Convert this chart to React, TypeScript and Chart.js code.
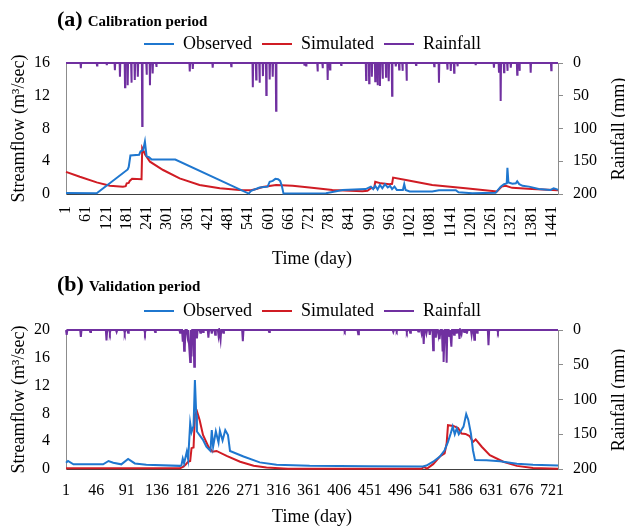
import React, { useEffect, useRef } from 'react';
import { Chart, registerables } from 'chart.js';

Chart.register(...registerables);

const FONT = '"Liberation Serif", "Times New Roman", serif';
const BLUE = '#1f77cf';
const RED = '#d01c24';
const PURPLE = '#7030a0';
const AXIS_GRAY = '#8c8c8c';

// ---------------- (a) Calibration period ----------------
const calDayRange = [1, 1460];
const calTickDays = [1, 61, 121, 181, 241, 301, 361, 421, 481, 541, 601, 661, 721, 781, 841, 901, 961, 1021, 1081, 1141, 1201, 1261, 1321, 1381, 1441];
const calObserved: [number, number][] = [
  [1, 0.12], [92, 0.1], [184, 3.0], [187, 3.3], [192, 4.7], [218, 4.8], [222, 5.2], [230, 5.4], [235, 6.4],
  [240, 4.6], [247, 4.5], [255, 4.2], [325, 4.2], [543, 0.05], [550, 0.4], [575, 0.8], [599, 0.9], [605, 1.5],
  [614, 1.6], [622, 1.85], [630, 1.8], [636, 1.6], [641, 1.0], [646, 0.05], [772, 0.1], [821, 0.5], [890, 0.6],
  [905, 0.9], [912, 0.6], [918, 1.0], [925, 0.55], [932, 1.1], [939, 0.7], [947, 1.2], [955, 0.8], [962, 1.0],
  [968, 0.6], [975, 0.9], [982, 0.5], [1000, 0.5], [1004, 1.2], [1008, 0.5], [1020, 0.3], [1087, 0.3],
  [1107, 0.45], [1157, 0.45], [1165, 0.2], [1206, 0.1], [1275, 0.15], [1290, 0.9], [1300, 1.2], [1308, 1.3],
  [1310, 3.2], [1313, 1.4], [1325, 1.25], [1335, 1.3], [1339, 1.55], [1345, 1.2], [1355, 1.0], [1374, 0.9],
  [1403, 0.6], [1438, 0.5], [1447, 0.7], [1455, 0.6], [1460, 0.5],
];
const calSimulated: [number, number][] = [
  [1, 2.7], [42, 2.1], [92, 1.42], [131, 1.02], [170, 0.9], [178, 0.95], [181, 1.3], [187, 1.35], [190, 1.6],
  [197, 1.85], [225, 1.8], [227, 5.6], [236, 4.8], [250, 3.95], [289, 2.93], [338, 1.9], [397, 1.1], [457, 0.7],
  [516, 0.5], [550, 0.45], [565, 0.6], [584, 0.85], [624, 1.1], [673, 1.0], [723, 0.8], [791, 0.5], [880, 0.35],
  [895, 0.4], [905, 0.7], [915, 0.75], [918, 1.5], [935, 1.3], [960, 1.2], [968, 1.25], [971, 2.0], [1009, 1.7],
  [1087, 1.1], [1186, 0.7], [1279, 0.3], [1293, 0.9], [1305, 1.0], [1324, 0.75], [1383, 0.6], [1460, 0.45],
];
const calRainfall: [number, number][] = [
  [45, 8], [93, 4], [122, 3], [146, 11], [161, 21], [176, 37], [184, 34], [195, 30], [205, 26], [214, 21],
  [227, 96], [240, 18], [250, 34], [258, 16], [269, 6], [368, 13], [377, 9], [436, 7], [491, 5], [555, 37],
  [565, 25], [575, 30], [585, 20], [595, 49], [605, 25], [614, 21], [624, 73], [708, 4], [713, 4], [747, 13],
  [762, 8], [777, 26], [784, 10], [817, 3], [891, 26], [900, 31], [908, 21], [918, 28], [925, 34], [932, 35],
  [940, 24], [950, 21], [958, 28], [968, 50], [979, 5], [989, 10], [999, 12], [1011, 27], [1039, 3], [1093, 5],
  [1107, 30], [1132, 10], [1142, 12], [1152, 15], [1162, 5], [1216, 3], [1270, 7], [1285, 15], [1290, 58],
  [1300, 14], [1310, 12], [1320, 7], [1339, 18], [1346, 12], [1379, 15], [1440, 11],
];

// ---------------- (b) Validation period ----------------
const valDayRange = [1, 730];
const valTickDays = [1, 46, 91, 136, 181, 226, 271, 316, 361, 406, 451, 496, 541, 586, 631, 676, 721];
const valObserved: [number, number][] = [
  [1, 0.9], [4, 1.15], [12, 0.67], [56, 0.67], [64, 1.15], [71, 0.9], [83, 0.67], [93, 1.45], [103, 0.8],
  [120, 0.6], [170, 0.45], [172, 0.5], [174, 1.5], [176, 0.8], [180, 2.5], [182, 1.4], [185, 6.6], [187, 5.3],
  [190, 6.2], [192, 12.8], [194, 7.8], [195, 5.4], [204, 4.2], [209, 3.2], [215, 2.6], [217, 5.6], [219, 3.2],
  [223, 5.4], [227, 3.8], [229, 5.5], [233, 4.1], [237, 5.6], [241, 4.9], [244, 2.6], [264, 1.8], [288, 0.95],
  [313, 0.6], [362, 0.45], [450, 0.4], [530, 0.35], [535, 0.5], [545, 1.05], [555, 1.8], [562, 2.7], [567, 3.9],
  [571, 5.1], [574, 6.1], [577, 5.0], [580, 5.85], [583, 5.0], [590, 6.1], [594, 7.9], [597, 7.1], [601, 5.1],
  [604, 2.7], [607, 1.3], [624, 1.25], [644, 1.1], [669, 0.75], [693, 0.6], [730, 0.5],
];
const valSimulated: [number, number][] = [
  [1, 0.1], [170, 0.1], [175, 0.35], [178, 0.6], [182, 1.05], [185, 1.15], [187, 3.0], [190, 3.1], [192, 7.8],
  [195, 8.3], [199, 7.05], [204, 4.9], [212, 3.2], [218, 2.5], [224, 2.6], [239, 1.9], [259, 1.05], [279, 0.48],
  [298, 0.2], [330, 0.05], [528, 0.05], [531, 0.3], [536, 0.05], [545, 0.7], [555, 1.8], [562, 2.25], [565, 3.7],
  [567, 6.3], [575, 6.2], [582, 5.9], [587, 5.1], [593, 5.05], [599, 4.75], [604, 3.9], [608, 4.25], [617, 3.2],
  [629, 2.0], [649, 1.05], [669, 0.45], [693, 0.15], [730, 0.05],
];
const valRainfall: [number, number][] = [
  [2, 7], [23, 10], [37, 3], [61, 15], [66, 4], [76, 3], [88, 4], [93, 4], [118, 4], [133, 3], [170, 4],
  [174, 17], [176, 30], [177, 26], [181, 8], [184, 31], [185, 46], [187, 38], [191, 53], [195, 12], [200, 4],
  [204, 3], [212, 11], [217, 5], [222, 7], [227, 8], [230, 14], [234, 4], [263, 16], [302, 3], [414, 2],
  [434, 6], [486, 3], [491, 2], [506, 3], [511, 4], [523, 2], [528, 5], [531, 20], [535, 5], [540, 7], [545, 29],
  [549, 11], [553, 7], [555, 13], [559, 31], [561, 46], [565, 47], [569, 10], [572, 24], [576, 7], [580, 5],
  [584, 13], [587, 6], [591, 3], [595, 5], [602, 7], [606, 14], [610, 4], [627, 22], [641, 3],
];

const legendNames = ['Observed', 'Simulated', 'Rainfall'];

function toPoints(rows: [number, number][]) {
  return rows.map(([x, y]) => ({ x, y }));
}

// daily rainfall: dry days around each event sit on the 0 mm line
function rainfallLine(events: [number, number][], first: number, last: number) {
  const rainy = new Set(events.map((e) => e[0]));
  const pts: { x: number; y: number }[] = [{ x: first, y: 0 }];
  for (const [d, mm] of events) {
    if (!rainy.has(d - 1) && d - 1 > first) pts.push({ x: d - 1, y: 0 });
    pts.push({ x: d, y: mm });
    if (!rainy.has(d + 1)) pts.push({ x: d + 1, y: 0 });
  }
  pts.push({ x: last, y: 0 });
  return pts;
}

type PanelProps = {
  top: number;
  height: number;
  padTop: number;
  xHeight: number;
  xLabelPad: number;
  rotation: number;
  range: number[];
  tickDays: number[];
  yMax: number;
  observed: [number, number][];
  simulated: [number, number][];
  rainfall: [number, number][];
};

function Panel(p: PanelProps) {
  const ref = useRef<HTMLCanvasElement | null>(null);
  useEffect(() => {
    if (!ref.current) return;
    const tickFont = { family: FONT, size: 16 };
    const titleFont = { family: FONT, size: 18 };
    const chart = new Chart(ref.current, {
      type: 'line',
      data: {
        datasets: [
          { label: legendNames[0], data: toPoints(p.observed), borderColor: BLUE, backgroundColor: BLUE, borderWidth: 2, pointRadius: 0, yAxisID: 'y', clip: 2 },
          { label: legendNames[1], data: toPoints(p.simulated), borderColor: RED, backgroundColor: RED, borderWidth: 2, pointRadius: 0, yAxisID: 'y', clip: 2 },
          { label: legendNames[2], data: rainfallLine(p.rainfall, p.range[0], p.range[1]), borderColor: PURPLE, backgroundColor: PURPLE, borderWidth: 2, pointRadius: 0, yAxisID: 'y2', clip: 2 },
        ],
      },
      options: {
        responsive: false,
        animation: false,
        layout: { padding: { top: p.padTop, left: 0, right: 0, bottom: 0 } },
        plugins: {
          legend: {
            position: 'top',
            labels: {
              usePointStyle: true,
              pointStyle: 'line',
              pointStyleWidth: 30,
              padding: 10,
              color: '#000',
              font: titleFont,
            },
          },
          tooltip: { enabled: false },
        },
        scales: {
          x: {
            type: 'linear',
            min: p.range[0],
            max: p.range[1],
            afterBuildTicks: (s: any) => {
              s.ticks = p.tickDays.map((v) => ({ value: v }));
            },
            afterFit: (s: any) => {
              s.height = p.xHeight;
            },
            ticks: {
              autoSkip: false,
              minRotation: p.rotation,
              maxRotation: p.rotation,
              padding: p.xLabelPad,
              color: '#000',
              font: tickFont,
              callback: (v: any) => String(v),
            },
            grid: { display: false, drawTicks: false },
            border: { display: true, color: '#404040', width: 1 },
            title: { display: true, text: 'Time (day)', color: '#000', font: titleFont, padding: { top: 0, bottom: 0 } },
          },
          y: {
            position: 'left',
            min: 0,
            max: p.yMax,
            afterFit: (s: any) => {
              s.width = 66;
            },
            ticks: { stepSize: 4, padding: 16, color: '#000', font: tickFont },
            grid: { display: false, drawTicks: false },
            border: { display: true, color: AXIS_GRAY, width: 1 },
            title: { display: true, text: 'Streamflow (m³/sec)', color: '#000', font: titleFont, padding: { top: 8, bottom: 0 } },
          },
          y2: {
            position: 'right',
            reverse: true,
            min: 0,
            max: 200,
            afterFit: (s: any) => {
              s.width = 67;
            },
            ticks: { stepSize: 50, padding: 10, color: '#000', font: tickFont },
            grid: { display: true, drawOnChartArea: false, drawTicks: true, tickLength: 5, color: AXIS_GRAY },
            border: { display: true, color: AXIS_GRAY, width: 1 },
          },
        },
      } as any,
    });
    return () => chart.destroy();
  }, []);
  return (
    <canvas
      ref={ref}
      width={625}
      height={p.height}
      style={{ position: 'absolute', left: 0, top: p.top, width: 625, height: p.height }}
    />
  );
}

function PanelTitle({ top, letter, text }: { top: number; letter: string; text: string }) {
  return (
    <div
      style={{
        position: 'absolute',
        left: 57,
        top,
        display: 'flex',
        alignItems: 'baseline',
        gap: 5,
        fontFamily: FONT,
        fontWeight: 'bold',
        lineHeight: '24px',
        color: '#000',
        whiteSpace: 'nowrap',
      }}
    >
      <span style={{ fontSize: 22 }}>{letter}</span>
      <span style={{ fontSize: 15 }}>{text}</span>
    </div>
  );
}

function RightTitle({ cy }: { cy: number }) {
  return (
    <div
      style={{
        position: 'absolute',
        left: 618 - 100,
        top: cy - 10,
        width: 200,
        height: 20,
        lineHeight: '20px',
        textAlign: 'center',
        fontFamily: FONT,
        fontSize: 18,
        color: '#000',
        transform: 'rotate(-90deg)',
        transformOrigin: '50% 50%',
        whiteSpace: 'nowrap',
      }}
    >
      Rainfall (mm)
    </div>
  );
}

export default function App() {
  return (
    <div style={{ position: 'absolute', left: 0, top: 0, width: 625, height: 528, overflow: 'hidden', background: '#fff' }}>
      <Panel
        top={0}
        height={270}
        padTop={25}
        xHeight={76}
        xLabelPad={12}
        rotation={90}
        range={calDayRange}
        tickDays={calTickDays}
        yMax={16}
        observed={calObserved}
        simulated={calSimulated}
        rainfall={calRainfall}
      />
      <Panel
        top={270}
        height={258}
        padTop={22}
        xHeight={59}
        xLabelPad={12}
        rotation={0}
        range={valDayRange}
        tickDays={valTickDays}
        yMax={20}
        observed={valObserved}
        simulated={valSimulated}
        rainfall={valRainfall}
      />
      <PanelTitle top={7} letter="(a)" text="Calibration period" />
      <PanelTitle top={272} letter="(b)" text="Validation period" />
      <RightTitle cy={128.5} />
      <RightTitle cy={399.5} />
    </div>
  );
}
